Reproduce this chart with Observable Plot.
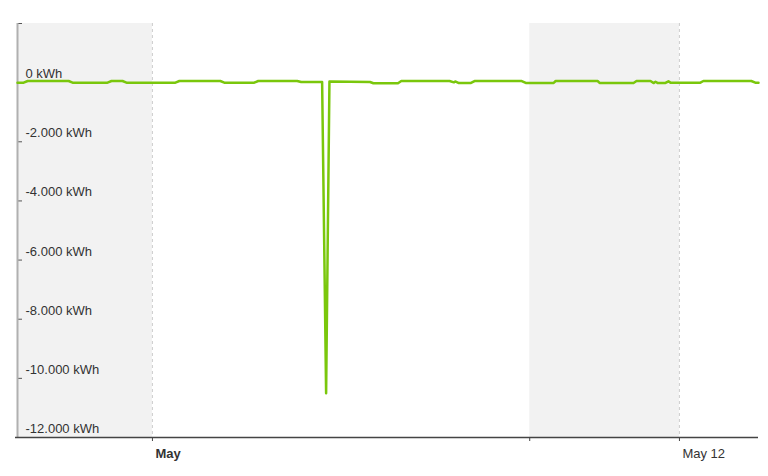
<!DOCTYPE html>
<html>
<head>
<meta charset="utf-8">
<script src="https://cdn.jsdelivr.net/npm/d3@7"></script>
<script src="https://cdn.jsdelivr.net/npm/@observablehq/plot@0.6"></script>
<style>
  html, body { margin: 0; padding: 0; background: #fff; }
  #chart svg { display: block; }
</style>
</head>
<body>
<div id="chart"></div>
<script>
// Energy readings (kWh) over time
const times = [
  "2018-04-28T04:24Z","2018-04-28T07:30Z","2018-04-28T09:30Z","2018-04-29T06:00Z","2018-04-29T08:00Z",
  "2018-04-30T01:30Z","2018-04-30T03:30Z","2018-04-30T09:00Z","2018-04-30T11:00Z",
  "2018-05-01T11:30Z","2018-05-01T13:30Z","2018-05-02T10:00Z","2018-05-02T12:00Z",
  "2018-05-03T03:00Z","2018-05-03T05:00Z","2018-05-04T00:30Z","2018-05-04T02:30Z",
  "2018-05-04T13:00Z","2018-05-04T15:00Z","2018-05-04T16:40Z",
  "2018-05-05T13:00Z","2018-05-05T14:40Z","2018-05-06T03:00Z","2018-05-06T04:40Z",
  "2018-05-07T04:50Z","2018-05-07T07:00Z","2018-05-07T07:40Z","2018-05-07T09:30Z","2018-05-07T15:20Z","2018-05-07T17:20Z",
  "2018-05-08T17:00Z","2018-05-08T19:00Z","2018-05-09T09:00Z","2018-05-09T10:00Z",
  "2018-05-10T07:00Z","2018-05-10T08:00Z","2018-05-11T01:00Z","2018-05-11T02:30Z",
  "2018-05-11T09:30Z","2018-05-11T11:00Z","2018-05-11T12:00Z","2018-05-11T13:00Z","2018-05-11T17:00Z",
  "2018-05-11T18:30Z","2018-05-11T19:30Z","2018-05-12T10:30Z","2018-05-12T12:00Z",
  "2018-05-13T12:00Z","2018-05-13T14:00Z","2018-05-13T15:36Z"
];
const values = [
  0, 0, 55, 55, 0,
  0, 55, 55, 0,
  0, 55, 55, 0,
  0, 55, 55, 20,
  20, -10500, 35,
  20, -20, -20, 55,
  55, 10, 40, -15, -15, 55,
  55, -10, -10, 55,
  55, -10, -10, 55,
  55, -15, 30, -10, -10,
  45, 0, 0, 55,
  55, 0, 0
];

const xDomain = ["2018-04-28T04:24Z", "2018-05-13T15:36Z"];
const yDomain = [-12000, 2000];
const yTicks = [2000, 0, -2000, -4000, -6000, -8000, -10000, -12000];
const yLabelTicks = [0, -2000, -4000, -6000, -8000, -10000, -12000];
const xTicks = ["2018-05-01T00:00Z", "2018-05-08T21:00Z", "2018-05-12T00:00Z"];
const xBoldLabels = [{date: "2018-05-01T00:00Z", label: "May"}];
const xPlainLabels = [{date: "2018-05-12T00:00Z", label: "May 12"}];
const bandStarts = ["2018-04-28T04:24Z", "2018-05-08T21:00Z"];
const bandEnds = ["2018-05-01T00:00Z", "2018-05-12T00:00Z"];
const dashedLines = ["2018-05-01T00:00Z", "2018-05-12T00:00Z"];

const P = d => new Date(d);
const data = times.map((t, i) => ({date: P(t), value: values[i]}));
const bands = bandStarts.map((s, i) => ({start: P(s), end: P(bandEnds[i])}));
const fmt = v => (v === 0 ? "0" : d3.format(",")(v).replace(/,/g, ".").replace("−", "-")) + " kWh";

const chart = Plot.plot({
  width: 768,
  height: 476,
  marginLeft: 17,
  marginRight: 10,
  marginTop: 23,
  marginBottom: 39,
  style: {fontFamily: "'Liberation Sans', Arial, sans-serif", fontSize: "13px", color: "#333", background: "#fff"},
  x: {type: "utc", domain: xDomain.map(P), axis: null},
  y: {domain: yDomain, axis: null},
  marks: [
    Plot.rect(bands, {x1: "start", x2: "end", fill: "#f2f2f2"}),
    Plot.ruleX(dashedLines.map(P), {stroke: "#cfcfcf", strokeDasharray: "3,3", strokeWidth: 1}),
    Plot.axisY({ticks: yTicks, tickSize: -5, tickFormat: () => "", stroke: "#555", label: null}),
    Plot.text(yLabelTicks, {y: d => d, text: fmt, frameAnchor: "left", textAnchor: "start", lineAnchor: "bottom", dx: 8, dy: -4.5, fill: "#333", fontSize: 13}),
    Plot.ruleX([P(xDomain[0])], {stroke: "#b0b0b0", strokeWidth: 2}),
    Plot.line(data, {x: "date", y: "value", stroke: "#7ac70c", strokeWidth: 2.5, curve: "linear"}),
    Plot.ruleY([yDomain[0]], {stroke: "#444", strokeWidth: 1.5, x1: P(xDomain[0]), x2: P(xDomain[1]), insetLeft: -2}),
    Plot.axisX({ticks: xTicks.map(P), tickSize: 4, tickFormat: () => "", stroke: "#444", label: null}),
    Plot.text(xBoldLabels, {x: d => P(d.date), text: "label", frameAnchor: "bottom", textAnchor: "start", lineAnchor: "middle", dx: 3, dy: 16, fontWeight: "bold", fill: "#333", fontSize: 13}),
    Plot.text(xPlainLabels, {x: d => P(d.date), text: "label", frameAnchor: "bottom", textAnchor: "start", lineAnchor: "middle", dx: 3, dy: 16, fill: "#333", fontSize: 13})
  ]
});
document.getElementById("chart").appendChild(chart);
</script>
</body>
</html>
